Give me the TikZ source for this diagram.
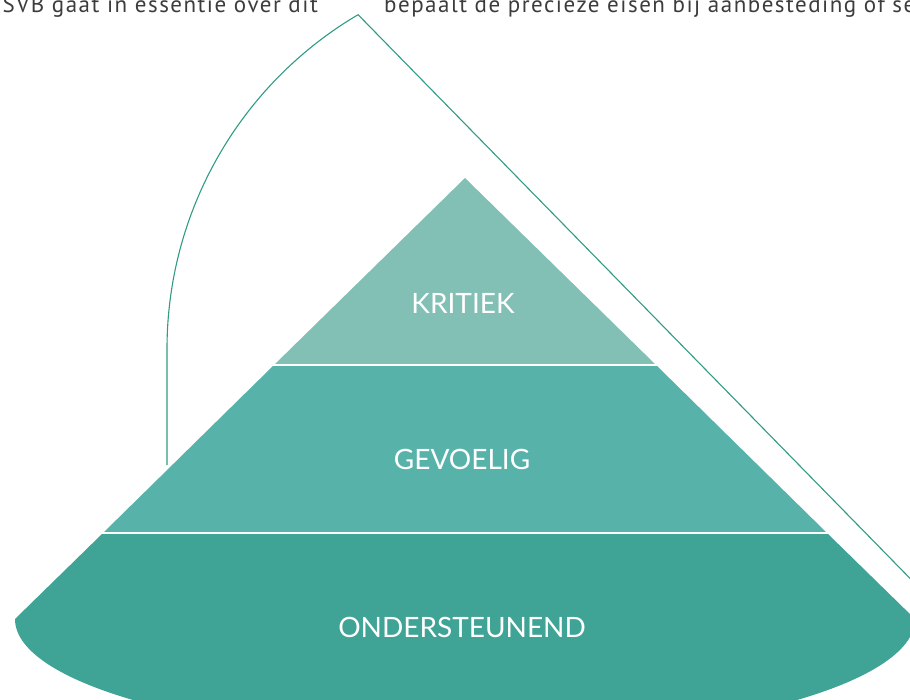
\documentclass[tikz,border=0pt]{standalone}
\usepackage{fontspec}
\setmainfont{Lato}
\newfontfamily\bodyfont[LetterSpace=6.5]{PT Sans}
\definecolor{layerA}{HTML}{82C0B6}
\definecolor{layerB}{HTML}{57B3AA}
\definecolor{layerC}{HTML}{3FA395}
\definecolor{outlinec}{HTML}{2F9B84}
\definecolor{bodytext}{HTML}{3C3C3C}
\tikzset{
  label/.style={text=white, font=\fontsize{28}{30}\selectfont, inner sep=0pt},
  bodystyle/.style={text=bodytext, font=\bodyfont\fontsize{23}{25}\selectfont, inner sep=0pt},
  outlinestyle/.style={draw=outlinec, line width=1.1pt},
  seplinestyle/.style={draw=white, line width=2pt}
}
\begin{document}
\begin{tikzpicture}[x=1pt,y=1pt]
\useasboundingbox (0,0) rectangle (910,-699);
\clip (0,0) rectangle (910,-699);
% pyramid layers
\coordinate (apex) at (465,-178);
\fill[layerC] (103,-533) -- (15,-619) arc[start angle=180, end angle=360, x radius=450, y radius=120] -- (827,-533) -- cycle;
\fill[layerB] (274,-365) -- (656,-365) -- (827,-533) -- (103,-533) -- cycle;
\fill[layerA] (apex) -- (656,-365) -- (274,-365) -- cycle;
\draw[seplinestyle] (270,-365) -- (660,-365);
\draw[seplinestyle] (99,-533) -- (831,-533);
% outline
\coordinate (ostart) at (167,-465);
\coordinate (oarc) at (167,-349);
\coordinate (oend) at (940,-609);
\draw[outlinestyle] (ostart) -- (oarc) arc[start angle=180, end angle=120.5, radius=388] coordinate (otop) -- (oend);
% labels
\node[label] (kritiek) at (463,-303) {KRITIEK};
\node[label] (gevoelig) at (462,-459) {GEVOELIG};
\node[label] (onder) at (462,-627) {ONDERSTEUNEND};
% top body text
\node[bodystyle, anchor=base east] (t1) at (318,-12) {SVB gaat in essentie over dit};
\node[bodystyle, anchor=base west] (t2) at (384,-12) {bepaalt de precieze eisen bij aanbesteding of se};
\end{tikzpicture}
\end{document}
